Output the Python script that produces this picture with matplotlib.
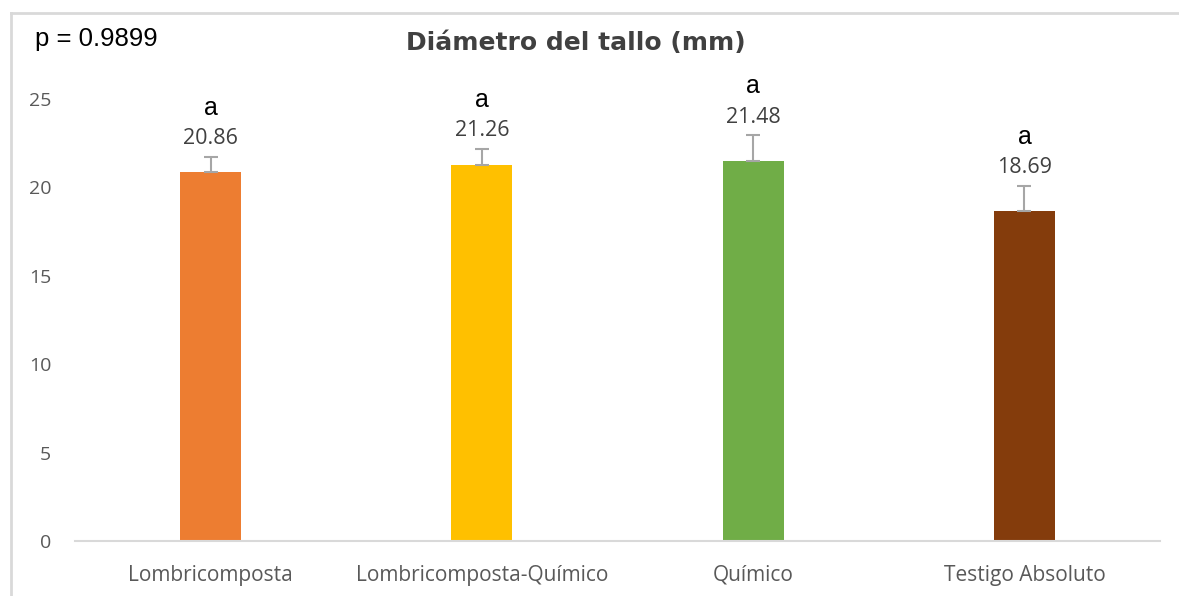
import matplotlib.pyplot as plt
from matplotlib.lines import Line2D

# data
categories = ["Lombricomposta", "Lombricomposta-Químico", "Químico", "Testigo Absoluto"]
means = [20.86, 21.26, 21.48, 18.69]
errors = [0.86, 0.91, 1.48, 1.39]
letters = ["a", "a", "a", "a"]
colors = ["#ed7d31", "#ffc000", "#70ad47", "#843c0c"]
p_text = "p = 0.9899"
title = "Diámetro del tallo (mm)"

fig = plt.figure(figsize=(11.79, 5.96), dpi=100)
ax = fig.add_axes([0.0636, 0.0923, 0.9204, 0.7416])

# light frame (top and left edges only are visible in the reference)
fig.lines.append(Line2D([0.0095, 1.0], [0.978, 0.978], transform=fig.transFigure,
                        color="#d9d9d9", linewidth=2))
fig.lines.append(Line2D([0.0095, 0.0095], [0.0, 0.978], transform=fig.transFigure,
                        color="#d9d9d9", linewidth=2))

x = range(len(categories))
ax.bar(x, means, width=0.225, color=colors, zorder=2)
ax.errorbar(x, means, yerr=[[0] * len(errors), errors], fmt="none",
            ecolor="#a6a6a6", elinewidth=1.5, capsize=5, capthick=1.5, zorder=3)

for i in x:
    top = means[i] + errors[i]
    ax.annotate(f"{means[i]:.2f}", (i, top), xytext=(0, 13), textcoords="offset points",
                ha="center", va="center", fontsize=15.5, color="#404040", family="Open Sans")
    ax.annotate(letters[i], (i, top), xytext=(0, 35), textcoords="offset points",
                ha="center", va="center", fontsize=18, color="black", family="Liberation Sans")

ax.set_xlim(-0.5, 3.5)
ax.set_ylim(0, 25)
ax.set_yticks([0, 5, 10, 15, 20, 25])
ax.set_xticks(list(x))
ax.set_xticklabels(categories)
for lab in ax.get_xticklabels():
    lab.set_family("Open Sans")
    lab.set_fontsize(15)
    lab.set_color("#595959")
for lab in ax.get_yticklabels():
    lab.set_family("Open Sans")
    lab.set_fontsize(14)
    lab.set_color("#595959")
ax.tick_params(axis="both", length=0)
ax.tick_params(axis="x", pad=17)
ax.tick_params(axis="y", pad=17)

for side in ["top", "right", "left"]:
    ax.spines[side].set_visible(False)
ax.spines["bottom"].set_color("#d9d9d9")
ax.spines["bottom"].set_linewidth(1.5)

fig.text(0.488, 0.928, title, ha="center", va="center", fontsize=18, fontweight="bold",
         color="#404040", family="DejaVu Sans")
fig.text(0.03, 0.935, p_text, ha="left", va="center", fontsize=18.5, color="black",
         family="Liberation Sans")

fig.savefig("out.png", dpi=100)
